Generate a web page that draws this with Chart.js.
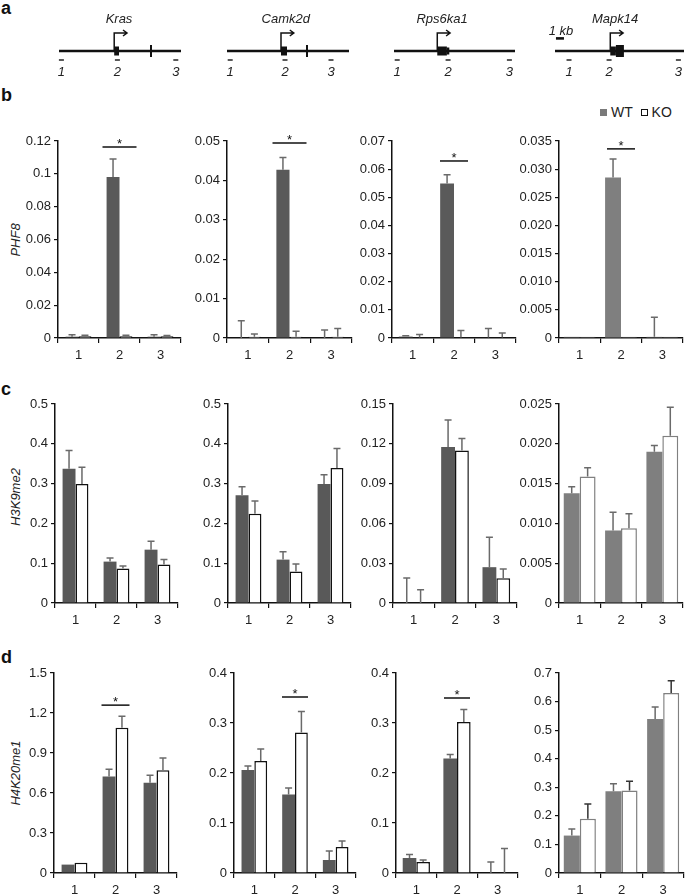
<!DOCTYPE html>
<html>
<head>
<meta charset="utf-8">
<script src="https://cdn.jsdelivr.net/npm/chart.js@4.4.1/dist/chart.umd.min.js"></script>
<style>
  body { margin: 0; background: #fff; width: 685px; height: 895px; overflow: hidden; position: relative;
         font-family: "Liberation Sans", Arial, sans-serif; color: #222; }
  canvas { position: absolute; }
  .panel { position: absolute; font-weight: bold; font-size: 18px; line-height: 18px; color: #111; }
  .ytitle { position: absolute; font-style: italic; font-size: 13px; white-space: nowrap;
            transform: translate(-50%, -50%) rotate(-90deg); }
  .legend { position: absolute; left: 600px; top: 104px; font-size: 14px; line-height: 16px; white-space: nowrap; }
  .legend i { display: inline-block; width: 7px; height: 7px; margin-right: 4px; vertical-align: 1px; box-sizing: border-box; }
</style>
</head>
<body>
<div class="panel" style="left:1px; top:-1px">a</div>
<div class="panel" style="left:1px; top:86px">b</div>
<div class="panel" style="left:1px; top:380px">c</div>
<div class="panel" style="left:1px; top:648px">d</div>
<div class="ytitle" style="left:15px; top:240px">PHF8</div>
<div class="ytitle" style="left:15px; top:497px">H3K9me2</div>
<div class="ytitle" style="left:15px; top:773px">H4K20me1</div>
<div class="legend"><i style="background:#7a7a7a"></i>WT&nbsp;&nbsp;<i style="border:1.5px solid #111;background:#fff"></i>KO</div>

<script>
// ---- data ----
const genes = ['Kras', 'Camk2d', 'Rps6ka1', 'Mapk14'];
const regions = ['1', '2', '3'];

// panel a: gene maps, in kb
const geneLen = [15.25, 15.25, 15.1, 16.1];
const tssKb = [6.9, 6.75, 5.4, 6.9];
const exonKb = [
  [{ from: 6.9, to: 7.5, kind: 'cds' }],
  [{ from: 6.75, to: 7.5, kind: 'cds' }],
  [{ from: 5.4, to: 6.6, kind: 'cds' }, { from: 6.6, to: 6.9, kind: 'utr' }],
  [{ from: 6.9, to: 7.6, kind: 'cds' }, { from: 7.6, to: 8.6, kind: 'big' }]
];
const markKb = [[11.5], [10.0], [], []];
const primerKb = [[0.3, 7.3, 14.6], [0.4, 7.25, 13.0], [0.4, 6.75, 14.4], [1.75, 6.75, 15.4]];
const scaleBarKb = 1;

// panel b: PHF8
const phf8WT = [[0.0008, 0.098, 0.0008], [0, 0.0427, 0], [0.0005, 0.0549, 0.0002], [0.0002, 0.0285, 0.0002]];
const phf8WTErr = [[0.002, 0.109, 0.002], [0.0044, 0.0458, 0.002], [0.0008, 0.058, 0.0034], [0.0002, 0.0318, 0.0037]];
const phf8KO = [[0.001, 0.001, 0.001], [0.0003, 0.0003, 0.0003], [0.0002, 0.0002, 0.0002], [0.0002, 0.0002, 0.0002]];
const phf8KOErr = [[0.0016, 0.0016, 0.0015], [0.001, 0.0017, 0.0024], [0.0012, 0.0027, 0.0018], [0.0002, 0.0002, 0.0002]];
const phf8Sig = [0.1163, 0.0495, 0.0629, 0.0336];
const phf8Ticks = [
  ['0', '0.02', '0.04', '0.06', '0.08', '0.1', '0.12'],
  ['0', '0.01', '0.02', '0.03', '0.04', '0.05'],
  ['0', '0.01', '0.02', '0.03', '0.04', '0.05', '0.06', '0.07'],
  ['0', '0.005', '0.010', '0.015', '0.020', '0.025', '0.030', '0.035']
];

// panel c: H3K9me2
const h3k9WT = [[0.337, 0.104, 0.134], [0.271, 0.109, 0.299], [0, 0.1176, 0.027], [0.0138, 0.0091, 0.019]];
const h3k9WTErr = [[0.383, 0.113, 0.155], [0.292, 0.129, 0.322], [0.0188, 0.138, 0.0495], [0.0146, 0.0114, 0.0198]];
const h3k9KO = [[0.299, 0.0866, 0.0966], [0.224, 0.079, 0.339], [0, 0.115, 0.0186], [0.0159, 0.0094, 0.021]];
const h3k9KOErr = [[0.341, 0.093, 0.109], [0.256, 0.098, 0.388], [0.01, 0.124, 0.0256], [0.017, 0.0112, 0.0246]];
const h3k9Sig = [null, null, null, null];
const h3k9Ticks = [
  ['0', '0.1', '0.2', '0.3', '0.4', '0.5'],
  ['0', '0.1', '0.2', '0.3', '0.4', '0.5'],
  ['0', '0.03', '0.06', '0.09', '0.12', '0.15'],
  ['0', '0.005', '0.010', '0.015', '0.020', '0.025']
];

// panel d: H4K20me1
const h4k20WT = [[0.063, 0.724, 0.676], [0.206, 0.157, 0.026], [0.03, 0.229, 0], [0.131, 0.286, 0.539]];
const h4k20WTErr = [[0.066, 0.779, 0.733], [0.214, 0.170, 0.044], [0.037, 0.237, 0.022], [0.154, 0.312, 0.581]];
const h4k20KO = [[0.077, 1.09, 0.771], [0.224, 0.281, 0.052], [0.022, 0.302, 0], [0.19, 0.289, 0.63]];
const h4k20KOErr = [[0.08, 1.176, 0.862], [0.248, 0.323, 0.064], [0.026, 0.327, 0.049], [0.2415, 0.321, 0.673]];
const h4k20Sig = [1.259, 0.352, 0.35, null];
const h4k20Ticks = [
  ['0', '0.3', '0.6', '0.9', '1.2', '1.5'],
  ['0', '0.1', '0.2', '0.3', '0.4'],
  ['0', '0.1', '0.2', '0.3', '0.4'],
  ['0', '0.1', '0.2', '0.3', '0.4', '0.5', '0.6', '0.7']
];

// ---- layout / style ----
const FONT = '"Liberation Sans", Arial, sans-serif';
Chart.defaults.font.family = FONT;
Chart.defaults.font.size = 13;
Chart.defaults.color = '#222';

const YW = 50, PADT = 12, PADR = 3, XH = 24;
const geneStart = [59, 227, 394, 555];
const PX_PER_KB = 8;
const wtColor = ['#595959', '#595959', '#5a5a5a', '#7f7f7f'];
const koBorder = ['#111', '#111', '#111', '#808080'];
const catPct = [0.63, 0.63, 0.67, 0.77];

function place(left, top, w, h) {
  const c = document.createElement('canvas');
  c.width = w; c.height = h;
  c.style.left = left + 'px'; c.style.top = top + 'px';
  document.body.appendChild(c);
  return c;
}

const errorBars = {
  id: 'errorBars',
  afterDatasetsDraw(chart) {
    const ctx = chart.ctx, y = chart.scales.y;
    chart.data.datasets.forEach((ds, i) => {
      chart.getDatasetMeta(i).data.forEach((bar, j) => {
        const top = y.getPixelForValue(ds.err[j]);
        const base = y.getPixelForValue(ds.data[j]);
        if (base - top < 0.8) return;
        ctx.save();
        ctx.strokeStyle = ds.errColor;
        ctx.lineWidth = 1.5;
        ctx.beginPath();
        ctx.moveTo(bar.x, base); ctx.lineTo(bar.x, top);
        ctx.moveTo(bar.x - 3.5, top); ctx.lineTo(bar.x + 3.5, top);
        ctx.stroke();
        ctx.restore();
      });
    });
  }
};

const sigLine = {
  id: 'sigLine',
  afterDatasetsDraw(chart, args, o) {
    if (o.level == null) return;
    const ctx = chart.ctx;
    const cx = chart.scales.x.getPixelForValue(1);
    const ly = chart.scales.y.getPixelForValue(o.level);
    ctx.save();
    ctx.strokeStyle = '#111';
    ctx.lineWidth = 1.5;
    ctx.beginPath();
    ctx.moveTo(cx - o.half, ly); ctx.lineTo(cx + o.half, ly);
    ctx.stroke();
    ctx.fillStyle = '#111';
    ctx.font = '13px ' + FONT;
    ctx.textAlign = 'center';
    ctx.textBaseline = 'alphabetic';
    ctx.fillText('*', cx, ly + 1);
    ctx.restore();
  }
};

function barChart(frame, col, wt, wtErr, ko, koErr, sig, tickLabels, sigHalf, koErrColor) {
  const axisX = frame.axisX[col], right = frame.right[col];
  const canvas = place(axisX - YW, frame.top - PADT, right - axisX + YW + PADR, frame.zero - frame.top + PADT + XH);
  const tickVals = tickLabels.map(Number);
  return new Chart(canvas, {
    type: 'bar',
    data: {
      labels: regions,
      datasets: [
        { label: 'WT', data: wt, err: wtErr, errColor: '#6a6a6a', backgroundColor: wtColor[col], borderWidth: 0 },
        { label: 'KO', data: ko, err: koErr, errColor: koErrColor,
          backgroundColor: '#fff', borderColor: koBorder[col], borderWidth: 1.5 }
      ]
    },
    options: {
      responsive: false,
      animation: false,
      layout: { padding: { top: PADT, right: PADR, left: 0, bottom: 0 } },
      datasets: { bar: { categoryPercentage: catPct[col], barPercentage: 1 } },
      plugins: {
        legend: { display: false },
        tooltip: { enabled: false },
        sigLine: { level: sig, half: sigHalf }
      },
      scales: {
        x: {
          grid: { offset: true, drawOnChartArea: false, color: '#111', tickLength: 5, lineWidth: 1.2 },
          border: { color: '#111', width: 1.5 },
          ticks: { padding: 5, maxRotation: 0 },
          afterFit: a => { a.height = XH; }
        },
        y: {
          min: 0,
          max: tickVals[tickVals.length - 1],
          afterBuildTicks: a => { a.ticks = tickVals.map(v => ({ value: v })); },
          grid: { drawOnChartArea: false, color: '#111', tickLength: 4, lineWidth: 1.2 },
          border: { color: '#111', width: 1.5 },
          ticks: { padding: 3, callback: (v, i) => tickLabels[i] },
          afterFit: a => { a.width = YW; }
        }
      }
    },
    plugins: [errorBars, sigLine]
  });
}

const frameB = { axisX: [58, 227, 392, 559], right: [181, 352, 516, 683], top: 141, zero: 338 };
const frameC = { axisX: [55, 228, 393, 559], right: [178, 351, 517, 683], top: 404, zero: 603 };
const frameD = { axisX: [54, 234, 396, 559], right: [177, 356, 518, 684], top: 673, zero: 873 };
const sigHalfB = [17, 17, 14, 14];
const sigHalfD = [14, 13, 13, 13];

for (let g = 0; g < 4; g++) {
  barChart(frameB, g, phf8WT[g], phf8WTErr[g], phf8KO[g], phf8KOErr[g], phf8Sig[g], phf8Ticks[g], sigHalfB[g], '#6a6a6a');
  barChart(frameC, g, h3k9WT[g], h3k9WTErr[g], h3k9KO[g], h3k9KOErr[g], h3k9Sig[g], h3k9Ticks[g], 14, '#6a6a6a');
  barChart(frameD, g, h4k20WT[g], h4k20WTErr[g], h4k20KO[g], h4k20KOErr[g], h4k20Sig[g], h4k20Ticks[g], sigHalfD[g],
           g === 3 ? '#333' : '#6a6a6a');
}

// ---- panel a ----
const geneDraw = {
  id: 'geneDraw',
  afterDatasetsDraw(chart, args, o) {
    const { ctx, scales: { x, y } } = chart;
    const y0 = y.getPixelForValue(0), yTop = y.getPixelForValue(2);
    ctx.save();
    ctx.fillStyle = '#111';
    o.exons.forEach(e => {
      const h = e.kind === 'big' ? 6 : e.kind === 'utr' ? 3.5 : 4.5;
      const x0 = x.getPixelForValue(e.from), x1 = x.getPixelForValue(e.to);
      ctx.fillRect(x0, y0 - h, x1 - x0, 2 * h);
    });
    // TSS arrow
    const tx = x.getPixelForValue(o.tss), ax = x.getPixelForValue(o.tss + 1.6);
    ctx.strokeStyle = '#111';
    ctx.lineWidth = 1.5;
    ctx.beginPath();
    ctx.moveTo(tx, y0); ctx.lineTo(tx, yTop); ctx.lineTo(ax, yTop);
    ctx.moveTo(ax - 4, yTop - 3); ctx.lineTo(ax, yTop); ctx.lineTo(ax - 4, yTop + 3);
    ctx.stroke();
    // labels
    ctx.fillStyle = '#222';
    ctx.font = 'italic 13px ' + FONT;
    ctx.textAlign = 'center';
    ctx.textBaseline = 'middle';
    o.primers.forEach((p, i) => ctx.fillText(regions[i], x.getPixelForValue(p), y.getPixelForValue(-1) + 12));
    ctx.fillText(o.name, x.getPixelForValue(o.tss + 0.6), yTop - 14);
    if (o.scaleBar) {
      const sx0 = x.getPixelForValue(0.12), sx1 = x.getPixelForValue(0.12 + scaleBarKb);
      const sy = y.getPixelForValue(1.4);
      ctx.fillStyle = '#111';
      ctx.fillRect(sx0, sy - 1.3, sx1 - sx0, 2.6);
      ctx.fillStyle = '#222';
      ctx.fillText('1 kb', (sx0 + sx1) / 2 + 1, sy - 7);
    }
    ctx.restore();
  }
};

for (let g = 0; g < 4; g++) {
  const len = geneLen[g];
  const canvas = place(geneStart[g] - 12, 0, Math.round(len * PX_PER_KB) + 24, 85);
  new Chart(canvas, {
    type: 'scatter',
    data: {
      datasets: [
        { type: 'line', data: [{ x: 0, y: 0 }, { x: len, y: 0 }], borderColor: '#111', borderWidth: 2.5, pointRadius: 0, clip: false },
        { data: primerKb[g].map(p => ({ x: p, y: -1 })), pointStyle: 'line', pointRadius: 2.5, borderWidth: 1.5, borderColor: '#222', clip: false },
        { data: markKb[g].map(m => ({ x: m, y: 0 })), pointStyle: 'line', rotation: 90, pointRadius: 6, borderWidth: 2, borderColor: '#111', clip: false }
      ]
    },
    options: {
      responsive: false,
      animation: false,
      layout: { padding: { top: 33, bottom: 25, left: 12, right: 12 } },
      plugins: {
        legend: { display: false },
        tooltip: { enabled: false },
        geneDraw: { exons: exonKb[g], tss: tssKb[g], primers: primerKb[g], name: genes[g], scaleBar: g === 3 }
      },
      scales: {
        x: { type: 'linear', display: false, min: 0, max: len },
        y: { type: 'linear', display: false, min: -1, max: 2 }
      }
    },
    plugins: [geneDraw]
  });
}
</script>
</body>
</html>
